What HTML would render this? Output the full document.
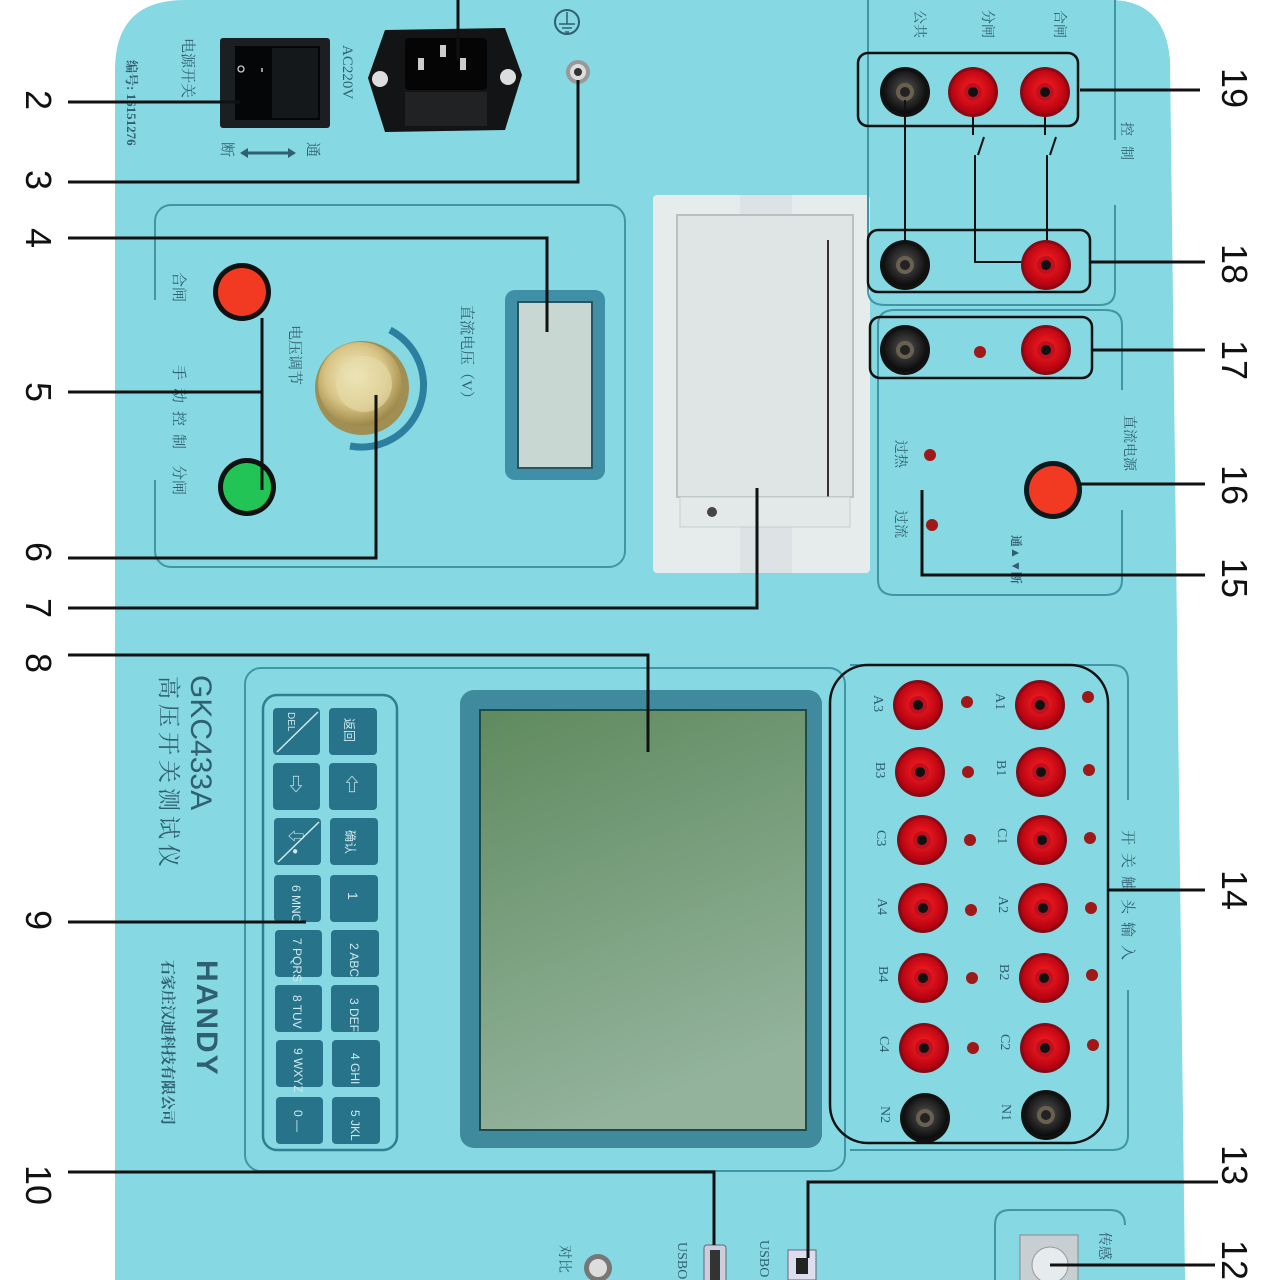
<!DOCTYPE html>
<html><head><meta charset="utf-8">
<style>
html,body{margin:0;padding:0;background:#fff;}
svg{display:block;}
text{font-family:"Liberation Sans","Noto Sans CJK SC",sans-serif;}
.cn{font-family:"Liberation Serif","Noto Serif CJK SC",serif;fill:#2f5f72;}
.num{font-size:36px;fill:#111;}
</style></head>
<body>
<svg width="1280" height="1280" viewBox="0 0 1280 1280" xmlns="http://www.w3.org/2000/svg">
<defs>
  <radialGradient id="red" cx="50%" cy="45%" r="55%"><stop offset="0" stop-color="#f22"/><stop offset="1" stop-color="#b00010"/></radialGradient>
  <radialGradient id="blk" cx="50%" cy="45%" r="55%"><stop offset="0" stop-color="#555"/><stop offset="1" stop-color="#0a0a0a"/></radialGradient>
  <radialGradient id="gold" cx="45%" cy="40%" r="60%"><stop offset="0" stop-color="#f6efc8"/><stop offset="0.6" stop-color="#d8c485"/><stop offset="1" stop-color="#9c8848"/></radialGradient>
  <linearGradient id="lcd" x1="0" y1="0" x2="0.3" y2="1"><stop offset="0" stop-color="#5f8a5e"/><stop offset="1" stop-color="#93b39c"/></linearGradient>
  <g id="rj"><circle r="25" fill="#8a0a14"/><circle r="22" fill="url(#red)"/><circle r="9" fill="#c01020"/><circle r="5" fill="#111"/></g>
  <g id="bj"><circle r="25" fill="#111"/><circle r="21" fill="url(#blk)"/><circle r="9" fill="#6a6050"/><circle r="5" fill="#222"/></g>
</defs>

<path d="M115 70 Q115 0 185 0 L1110 0 Q1165 0 1170 60 L1185 1280 L115 1280 Z" fill="#86d8e2"/>

<g transform="translate(127,60) rotate(90)"><text class="cn" font-size="13" font-weight="bold">编号: 16151276</text></g>
<g transform="translate(183,38) rotate(90)"><text class="cn" font-size="15">电源开关</text></g>
<rect x="220" y="38" width="110" height="90" fill="#1c1f22" rx="3"/>
<rect x="235" y="46" width="85" height="74" fill="#050607"/>
<rect x="272" y="48" width="46" height="70" fill="#15181a"/>
<circle cx="241" cy="69" r="3" fill="none" stroke="#ccc" stroke-width="1.3"/>
<line x1="262" y1="68" x2="262" y2="72" stroke="#ccc" stroke-width="1.5"/>
<g transform="translate(222,142) rotate(90)"><text class="cn" font-size="15">断</text></g>
<g transform="translate(308,142) rotate(90)"><text class="cn" font-size="15">通</text></g>
<line x1="245" y1="153" x2="290" y2="153" stroke="#2f5f72" stroke-width="3"/>
<path d="M240 153 l8 -5 v10z M296 153 l-8 -5 v10z" fill="#2f5f72"/>
<g transform="translate(343,45) rotate(90)"><text class="cn" font-size="15">AC220V</text></g>
<path d="M385 30 L505 28 L522 75 L505 130 L385 132 L368 78 Z" fill="#121416"/>
<rect x="405" y="38" width="82" height="52" fill="#050505" rx="4"/>
<rect x="440" y="45" width="6" height="12" fill="#ccc"/><rect x="418" y="58" width="6" height="12" fill="#ccc"/><rect x="460" y="58" width="6" height="12" fill="#ccc"/>
<rect x="405" y="92" width="82" height="34" fill="#202224"/>
<circle cx="380" cy="79" r="8" fill="#ddd"/><circle cx="508" cy="77" r="8" fill="#ddd"/>
<circle cx="567" cy="22" r="12" fill="none" stroke="#2f5f72" stroke-width="2"/>
<path d="M567 12 v12 M559 24 h16 M562 28 h10 M565 32 h4" stroke="#2f5f72" stroke-width="1.5"/>
<circle cx="578" cy="72" r="12" fill="#999"/><circle cx="578" cy="72" r="8" fill="#ddd"/><circle cx="578" cy="72" r="4" fill="#333"/>

<rect x="155" y="205" width="470" height="362" rx="16" fill="none" stroke="#3f97a6" stroke-width="2"/>
<rect x="150" y="300" width="10" height="180" fill="#86d8e2"/>
<g transform="translate(174,272) rotate(90)"><text class="cn" font-size="15">合闸</text></g>
<g transform="translate(174,365) rotate(90)"><text class="cn" font-size="15" letter-spacing="8">手动控制</text></g>
<g transform="translate(174,465) rotate(90)"><text class="cn" font-size="15">分闸</text></g>
<circle cx="242" cy="292" r="29" fill="#111"/><circle cx="242" cy="292" r="24" fill="#f23a22"/>
<circle cx="247" cy="487" r="29" fill="#111"/><circle cx="247" cy="487" r="24" fill="#22c456"/>
<g transform="translate(290,325) rotate(90)"><text class="cn" font-size="15">电压调节</text></g>
<path d="M390 330 A62 62 0 0 1 350 446" fill="none" stroke="#2d7fa0" stroke-width="7"/>
<circle cx="362" cy="388" r="47" fill="#a08e52"/><circle cx="360" cy="384" r="42" fill="url(#gold)"/><circle cx="364" cy="384" r="28" fill="#e6dcaa" opacity="0.6"/>
<g transform="translate(462,305) rotate(90)"><text class="cn" font-size="15">直流电压（V）</text></g>
<rect x="505" y="290" width="100" height="190" rx="10" fill="#3f8fa6"/>
<rect x="518" y="302" width="74" height="166" fill="#c9d7d2" stroke="#2a5560" stroke-width="2"/>

<rect x="653" y="195" width="217" height="378" rx="4" fill="#e6ebec"/>
<rect x="740" y="195" width="52" height="378" fill="#dde3e4"/>
<rect x="677" y="215" width="176" height="282" fill="#dfe4e5" stroke="#b9c0c2" stroke-width="2"/>
<path d="M828 240 v260" stroke="#333" stroke-width="2"/>
<rect x="680" y="497" width="170" height="30" fill="#e3e8e9" stroke="#c8cecf"/>
<circle cx="712" cy="512" r="5" fill="#444"/>

<path d="M868 0 V290 Q868 305 885 305 H1100 Q1115 305 1115 290 V0" fill="none" stroke="#3f97a6" stroke-width="2"/>
<rect x="1108" y="140" width="12" height="65" fill="#86d8e2"/>
<g transform="translate(915,10) rotate(90)"><text class="cn" font-size="14">公共</text></g>
<g transform="translate(983,10) rotate(90)"><text class="cn" font-size="14">分闸</text></g>
<g transform="translate(1055,10) rotate(90)"><text class="cn" font-size="14">合闸</text></g>
<g transform="translate(1122,122) rotate(90)"><text class="cn" font-size="14" letter-spacing="10">控制</text></g>
<rect x="858" y="53" width="220" height="73" rx="10" fill="none" stroke="#111" stroke-width="2.5"/>
<use href="#bj" x="905" y="92"/><use href="#rj" x="973" y="92"/><use href="#rj" x="1045" y="92"/>
<path d="M905 100 V250 M973 117 V135 M978 155 L984 137 M975 155 V262 H1030 M1045 117 V135 M1050 155 L1056 137 M1047 155 V250" fill="none" stroke="#111" stroke-width="2"/>
<rect x="868" y="230" width="222" height="62" rx="10" fill="none" stroke="#111" stroke-width="2.5"/>
<use href="#bj" x="905" y="265"/><use href="#rj" x="1046" y="265"/>
<path d="M878 325 Q878 310 895 310 H1105 Q1122 310 1122 325 V580 Q1122 595 1105 595 H895 Q878 595 878 580 Z" fill="none" stroke="#3f97a6" stroke-width="2"/>
<rect x="1115" y="390" width="12" height="120" fill="#86d8e2"/>
<rect x="870" y="317" width="222" height="61" rx="10" fill="none" stroke="#111" stroke-width="2.5"/>
<use href="#bj" x="905" y="350"/><circle cx="980" cy="352" r="6" fill="#a01818"/><use href="#rj" x="1046" y="350"/>
<g transform="translate(1125,415) rotate(90)"><text class="cn" font-size="14">直流电源</text></g>
<g transform="translate(896,440) rotate(90)"><text class="cn" font-size="14">过热</text></g>
<g transform="translate(896,510) rotate(90)"><text class="cn" font-size="14">过流</text></g>
<circle cx="930" cy="455" r="6" fill="#a01818"/><circle cx="932" cy="525" r="6" fill="#a01818"/>
<circle cx="1053" cy="490" r="29" fill="#0b1a1c"/><circle cx="1053" cy="490" r="24" fill="#f23a22"/>
<g transform="translate(1012,535) rotate(90)"><text class="cn" font-size="12" font-weight="bold">通▲</text></g>
<g transform="translate(1012,560) rotate(90)"><text class="cn" font-size="12" font-weight="bold">▼断</text></g>

<g transform="translate(191,675) rotate(90)"><text font-family="Liberation Serif,serif" font-size="30" fill="#2f5f72">GKC433A</text></g>
<g transform="translate(161,676) rotate(90)"><text class="cn" font-size="23" letter-spacing="5">高压开关测试仪</text></g>
<g transform="translate(197,960) rotate(90)"><text font-size="30" font-weight="bold" fill="#2f5f72" letter-spacing="2">HANDY</text></g>
<g transform="translate(163,960) rotate(90)"><text class="cn" font-size="15" font-weight="bold">石家庄汉迪科技有限公司</text></g>

<rect x="245" y="668" width="600" height="503" rx="16" fill="none" stroke="#3f97a6" stroke-width="2"/>
<rect x="263" y="695" width="134" height="455" rx="14" fill="none" stroke="#2f7f92" stroke-width="2.5"/>
<g fill="#27748a">
<rect x="273" y="708" width="47" height="47" rx="4"/><rect x="329" y="708" width="48" height="47" rx="4"/>
<rect x="273" y="763" width="47" height="47" rx="4"/><rect x="329" y="763" width="48" height="47" rx="4"/>
<rect x="274" y="818" width="47" height="47" rx="4"/><rect x="330" y="818" width="48" height="47" rx="4"/>
<rect x="274" y="875" width="47" height="47" rx="4"/><rect x="330" y="875" width="48" height="47" rx="4"/>
<rect x="275" y="930" width="47" height="47" rx="4"/><rect x="331" y="930" width="48" height="47" rx="4"/>
<rect x="275" y="985" width="47" height="47" rx="4"/><rect x="331" y="985" width="48" height="47" rx="4"/>
<rect x="276" y="1040" width="47" height="47" rx="4"/><rect x="332" y="1040" width="48" height="47" rx="4"/>
<rect x="276" y="1097" width="47" height="47" rx="4"/><rect x="332" y="1097" width="48" height="47" rx="4"/>
</g>
<g fill="#cfe8ee" font-size="12" font-family="Liberation Sans,'Noto Sans CJK SC',sans-serif">
<g transform="translate(345,718) rotate(90)"><text>返回</text></g>
<g transform="translate(345,775) rotate(90)"><text font-size="18">⇦</text></g>
<g transform="translate(346,830) rotate(90)"><text>确认</text></g>
<g transform="translate(348,892) rotate(90)"><text font-size="14">1</text></g>
<g transform="translate(350,943) rotate(90)"><text>2 ABC</text></g>
<g transform="translate(350,998) rotate(90)"><text>3 DEF</text></g>
<g transform="translate(351,1053) rotate(90)"><text>4 GHI</text></g>
<g transform="translate(351,1110) rotate(90)"><text>5 JKL</text></g>
<g transform="translate(288,712) rotate(90)"><text font-size="10">DEL</text></g>
<g transform="translate(289,775) rotate(90)"><text font-size="18">⇨</text></g>
<g transform="translate(290,828) rotate(90)"><text font-size="16">⇩ •</text></g>
<g transform="translate(292,885) rotate(90)"><text>6 MNO</text></g>
<g transform="translate(293,938) rotate(90)"><text>7 PQRS</text></g>
<g transform="translate(293,995) rotate(90)"><text>8 TUV</text></g>
<g transform="translate(294,1048) rotate(90)"><text>9 WXYZ</text></g>
<g transform="translate(294,1110) rotate(90)"><text>0 —</text></g>
</g>
<path d="M277 752 L318 712 M278 862 L319 822" stroke="#cfe8ee" stroke-width="1.5"/>
<rect x="460" y="690" width="362" height="458" rx="14" fill="#3f8a9c"/>
<rect x="480" y="710" width="326" height="420" fill="url(#lcd)" stroke="#1e4a4a" stroke-width="2"/>

<path d="M850 665 H1112 Q1128 665 1128 680 V1135 Q1128 1150 1112 1150 H850" fill="none" stroke="#3f97a6" stroke-width="2"/>
<rect x="1120" y="800" width="14" height="190" fill="#86d8e2"/>
<g transform="translate(1123,830) rotate(90)"><text class="cn" font-size="15" letter-spacing="8">开关触头输入</text></g>
<rect x="830" y="665" width="278" height="478" rx="38" fill="none" stroke="#111" stroke-width="2.5"/>
<g>
<use href="#rj" x="918" y="705"/><use href="#rj" x="1040" y="705"/>
<use href="#rj" x="920" y="772"/><use href="#rj" x="1041" y="772"/>
<use href="#rj" x="922" y="840"/><use href="#rj" x="1042" y="840"/>
<use href="#rj" x="923" y="908"/><use href="#rj" x="1043" y="908"/>
<use href="#rj" x="923" y="978"/><use href="#rj" x="1044" y="978"/>
<use href="#rj" x="924" y="1048"/><use href="#rj" x="1045" y="1048"/>
<use href="#bj" x="925" y="1118"/><use href="#bj" x="1046" y="1115"/>
</g>
<g fill="#a01818">
<circle cx="967" cy="702" r="6"/><circle cx="1088" cy="697" r="6"/>
<circle cx="968" cy="772" r="6"/><circle cx="1089" cy="770" r="6"/>
<circle cx="970" cy="840" r="6"/><circle cx="1090" cy="838" r="6"/>
<circle cx="971" cy="910" r="6"/><circle cx="1091" cy="908" r="6"/>
<circle cx="972" cy="978" r="6"/><circle cx="1092" cy="975" r="6"/>
<circle cx="973" cy="1048" r="6"/><circle cx="1093" cy="1045" r="6"/>
</g>
<g font-size="14">
<g transform="translate(874,695) rotate(90)"><text class="cn">A3</text></g>
<g transform="translate(876,762) rotate(90)"><text class="cn">B3</text></g>
<g transform="translate(877,830) rotate(90)"><text class="cn">C3</text></g>
<g transform="translate(878,898) rotate(90)"><text class="cn">A4</text></g>
<g transform="translate(879,966) rotate(90)"><text class="cn">B4</text></g>
<g transform="translate(880,1036) rotate(90)"><text class="cn">C4</text></g>
<g transform="translate(881,1106) rotate(90)"><text class="cn">N2</text></g>
<g transform="translate(996,693) rotate(90)"><text class="cn">A1</text></g>
<g transform="translate(997,760) rotate(90)"><text class="cn">B1</text></g>
<g transform="translate(998,828) rotate(90)"><text class="cn">C1</text></g>
<g transform="translate(999,896) rotate(90)"><text class="cn">A2</text></g>
<g transform="translate(1000,964) rotate(90)"><text class="cn">B2</text></g>
<g transform="translate(1001,1034) rotate(90)"><text class="cn">C2</text></g>
<g transform="translate(1002,1104) rotate(90)"><text class="cn">N1</text></g>
</g>

<circle cx="598" cy="1268" r="14" fill="#777"/><circle cx="598" cy="1268" r="9" fill="#ddd"/>
<g transform="translate(560,1245) rotate(90)"><text class="cn" font-size="14">对比</text></g>
<g transform="translate(678,1242) rotate(90)"><text class="cn" font-size="14">USBO</text></g>
<rect x="704" y="1245" width="22" height="40" rx="3" fill="#ccd" stroke="#667"/>
<rect x="710" y="1250" width="10" height="30" fill="#333"/>
<g transform="translate(760,1240) rotate(90)"><text class="cn" font-size="14">USBO</text></g>
<rect x="788" y="1250" width="28" height="30" fill="#dde" stroke="#667"/>
<rect x="796" y="1258" width="12" height="16" fill="#222"/>
<path d="M995 1280 V1225 Q995 1210 1010 1210 H1110 Q1125 1210 1125 1225" fill="none" stroke="#3f97a6" stroke-width="2"/>
<rect x="1020" y="1235" width="58" height="50" fill="#c8cfd2" stroke="#888"/>
<circle cx="1050" cy="1265" r="18" fill="#e6ecee" stroke="#999"/>
<g transform="translate(1100,1232) rotate(90)"><text class="cn" font-size="14">传感</text></g>

<g fill="none" stroke="#111" stroke-width="3">
<path d="M458 0 V60"/>
<path d="M68 102 H240"/>
<path d="M68 182 H578 V80"/>
<path d="M68 238 H547 V332"/>
<path d="M68 392 H262 M262 318 V490"/>
<path d="M68 558 H376 V395"/>
<path d="M68 608 H757 V488"/>
<path d="M68 655 H648 V752"/>
<path d="M68 922 H306"/>
<path d="M68 1172 H714 V1245"/>
<path d="M1218 1182 H808 V1258"/>
<path d="M1050 1265 H1215"/>
<path d="M1080 90 H1200"/>
<path d="M1090 262 H1205"/>
<path d="M1092 350 H1205"/>
<path d="M1080 484 H1205"/>
<path d="M922 490 V575 H1205"/>
<path d="M1108 890 H1205"/>
</g>

<g>
<g transform="translate(26,90) rotate(90)"><text class="num">2</text></g>
<g transform="translate(26,170) rotate(90)"><text class="num">3</text></g>
<g transform="translate(26,228) rotate(90)"><text class="num">4</text></g>
<g transform="translate(26,382) rotate(90)"><text class="num">5</text></g>
<g transform="translate(26,542) rotate(90)"><text class="num">6</text></g>
<g transform="translate(26,598) rotate(90)"><text class="num">7</text></g>
<g transform="translate(26,653) rotate(90)"><text class="num">8</text></g>
<g transform="translate(26,910) rotate(90)"><text class="num">9</text></g>
<g transform="translate(26,1165) rotate(90)"><text class="num">10</text></g>
<g transform="translate(1222,68) rotate(90)"><text class="num">19</text></g>
<g transform="translate(1222,244) rotate(90)"><text class="num">18</text></g>
<g transform="translate(1222,340) rotate(90)"><text class="num">17</text></g>
<g transform="translate(1222,465) rotate(90)"><text class="num">16</text></g>
<g transform="translate(1222,558) rotate(90)"><text class="num">15</text></g>
<g transform="translate(1222,870) rotate(90)"><text class="num">14</text></g>
<g transform="translate(1222,1145) rotate(90)"><text class="num">13</text></g>
<g transform="translate(1222,1240) rotate(90)"><text class="num">12</text></g>
</g>
</svg>
</body></html>
